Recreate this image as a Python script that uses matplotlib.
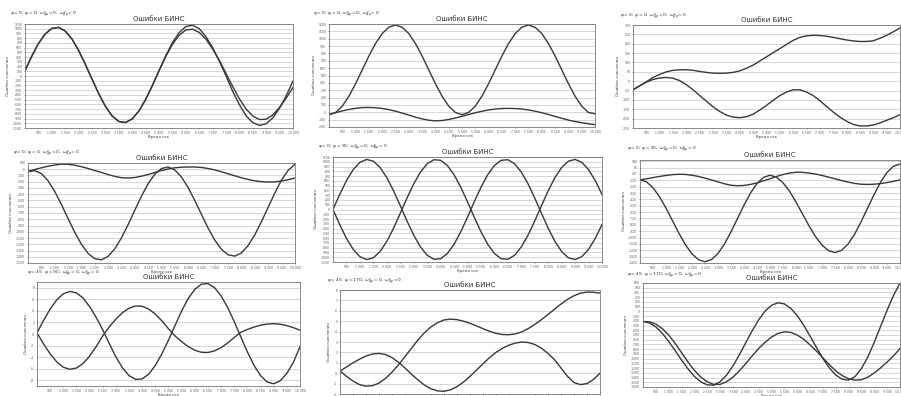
import numpy as np
import matplotlib
matplotlib.use('Agg')
import matplotlib.pyplot as plt

# time axis, seconds (every 250 s)
time_s = list(range(0, 10001, 250))

# panel 1
p1_a = [110, 417, 685, 888, 1006, 1028, 952, 785, 542, 249, -66, -373, -641, -844, -962, -984, -908, -741, -498, -205,
        112, 427, 704, 918, 1045, 1073, 1003, 834, 601, 315, 4, -325, -605, -841, -988, -1045, -1010, -884, -679, -413, -108]
p1_b = [110, 417, 685, 888, 1006, 1028, 952, 785, 542, 249, -66, -373, -641, -844, -962, -984, -908, -741, -498, -205,
        109, 409, 668, 862, 972, 990, 923, 780, 573, 334, 55, -225, -484, -697, -848, -922, -914, -824, -661, -467, -240]
# panel 2
p2_a = [-32, -2, 84, 219, 389, 577, 765, 935, 1070, 1156, 1186, 1156, 1070, 935, 765, 577, 389, 219, 84, -2,
        -32, -2, 84, 219, 389, 577, 765, 935, 1070, 1156, 1186, 1156, 1070, 935, 765, 577, 389, 219, 84, -2, -20]
p2_b = [-32, -5, 18, 38, 54, 64, 66, 62, 52, 36, 15, -10, -38, -66, -90, -108, -116, -112, -98, -78,
        -55, -30, -7, 14, 32, 44, 51, 53, 51, 44, 32, 15, -6, -30, -56, -82, -106, -126, -142, -156, -168]
# panel 3
p3_a = [-46, -25, -3, 20, 36, 50, 58, 61, 61, 58, 52, 47, 43, 42, 43, 47, 55, 69, 86, 108,
        130, 152, 174, 196, 218, 234, 242, 245, 244, 240, 234, 227, 220, 215, 212, 212, 216, 229, 245, 264, 284]
p3_b = [-46, -25, -5, 9, 17, 20, 16, 3, -19, -46, -77, -107, -137, -162, -181, -192, -195, -190, -176, -154,
        -129, -102, -77, -58, -46, -46, -58, -77, -104, -135, -165, -192, -214, -231, -239, -239, -234, -223, -209, -195, -179]
# panel 4
p4_a = [-42, -21, -70, -183, -354, -562, -788, -1009, -1201, -1346, -1431, -1449, -1394, -1274, -1098, -886, -655, -430, -231, -79,
        12, 36, -12, -126, -295, -502, -726, -945, -1137, -1284, -1370, -1390, -1337, -1218, -1044, -833, -604, -374, -169, -14, 78]
p4_b = [-33, -4, 23, 49, 68, 81, 79, 65, 41, 12, -20, -52, -84, -114, -135, -140, -132, -111, -84, -52,
        -20, 4, 23, 33, 36, 36, 28, 12, -12, -41, -73, -105, -137, -164, -185, -199, -204, -201, -188, -167, -140]
# panel 5
p5_a = [0, 317, 604, 835, 988, 1049, 1012, 881, 668, 393, 81, -239, -537, -783, -958, -1043, -1031, -923, -729, -466,
        -161, 160, 465, 728, 922, 1031, 1043, 959, 784, 538, 239, -80, -392, -668, -881, -1012, -1049, -988, -835, -605, -317]
p5_b = [0, -317, -604, -835, -988, -1049, -1012, -881, -668, -393, -81, 239, 537, 783, 958, 1043, 1031, 923, 729, 466,
        161, -160, -465, -728, -922, -1031, -1043, -959, -784, -538, -239, 80, 392, 668, 881, 1012, 1049, 988, 835, 605, 317]
# panel 6
p6_a = [-112, -144, -235, -378, -557, -755, -955, -1134, -1277, -1368, -1400, -1366, -1270, -1120, -930, -720, -510, -320, -170, -74,
        -40, -70, -157, -291, -461, -648, -835, -1005, -1139, -1226, -1256, -1222, -1123, -970, -774, -560, -346, -150, 3, 102, 136]
p6_b = [-112, -96, -77, -59, -43, -30, -24, -27, -40, -59, -85, -114, -144, -174, -197, -205, -200, -184, -160, -128,
        -96, -59, -29, -5, 8, 6, -5, -21, -43, -69, -96, -123, -147, -168, -181, -184, -181, -171, -155, -136, -112]
# panel 7
p7_a = [0.18, 2.35, 4.32, 5.90, 6.96, 7.37, 7.12, 6.22, 4.76, 2.87, 0.73, -1.67, -3.96, -5.86, -7.21, -7.86, -7.77, -6.94, -5.44, -3.42,
        -1.06, 1.49, 3.99, 6.14, 7.73, 8.63, 8.72, 8.03, 6.60, 4.58, 2.14, -0.49, -3.10, -5.42, -7.20, -8.30, -8.61, -8.10, -6.82, -4.89, -2.2]
p7_b = [0.18, -1.72, -3.44, -4.83, -5.75, -6.11, -5.89, -5.11, -3.83, -2.18, -0.31, 1.25, 2.58, 3.69, 4.47, 4.85, 4.80, 4.31, 3.44, 2.27,
        0.90, -0.34, -1.33, -2.18, -2.81, -3.16, -3.20, -2.92, -2.36, -1.56, -0.60, 0.30, 0.78, 1.20, 1.52, 1.72, 1.78, 1.69, 1.45, 1.10, 0.66]
# panel 8
p8_a = [0.2, -0.3, -0.75, -1.1, -1.25, -1.2, -0.95, -0.5, 0.1, 0.8, 1.6, 2.4, 3.2, 3.9, 4.45, 4.85, 5.12, 5.2, 5.15, 5.0,
        4.8, 4.55, 4.28, 4.03, 3.83, 3.72, 3.7, 3.78, 3.98, 4.3, 4.7, 5.15, 5.65, 6.15, 6.65, 7.1, 7.45, 7.7, 7.8, 7.78, 7.7]
p8_b = [0.2, 0.6, 1.0, 1.35, 1.65, 1.85, 1.9, 1.8, 1.5, 1.05, 0.5, -0.1, -0.65, -1.15, -1.5, -1.7, -1.74, -1.6, -1.3, -0.85,
        -0.3, 0.3, 0.9, 1.5, 2.0, 2.4, 2.7, 2.9, 3.0, 2.95, 2.75, 2.4, 1.9, 1.3, 0.5, -0.3, -0.9, -1.1, -1.0, -0.6, 0.0]
# panel 9
p9_a = [-214, -245, -328, -465, -636, -830, -1030, -1217, -1376, -1492, -1554, -1560, -1490, -1351, -1153, -918, -661, -408, -179, 6,
        129, 182, 158, 65, -89, -291, -524, -764, -997, -1197, -1347, -1435, -1455, -1380, -1211, -962, -652, -313, 28, 340, 598]
p9_b = [-214, -221, -269, -364, -500, -676, -874, -1072, -1248, -1391, -1490, -1545, -1545, -1490, -1391, -1259, -1105, -940, -786, -654,
        -544, -467, -434, -445, -500, -588, -709, -841, -984, -1127, -1259, -1358, -1424, -1455, -1446, -1391, -1303, -1193, -1072, -940, -786]

# initial conditions written above each panel
notes = [
    r'$\varphi=0;\ \psi=0;\ \omega^{x}_{др}=0;\ \omega^{z}_{др}=0$',
    r'$\varphi=0;\ \psi=0;\ \omega^{x}_{др}=0;\ \omega^{z}_{др}=0$',
    r'$\varphi=0;\ \psi=0;\ \omega^{x}_{др}=0;\ \omega^{z}_{др}=0$',
    r'$\varphi=0;\ \psi=0;\ \omega^{x}_{др}=0;\ \omega^{z}_{др}=0$',
    r'$\varphi=0;\ \psi=90;\ \omega^{x}_{др}=0;\ \omega^{z}_{др}=0$',
    r'$\varphi=0;\ \psi=90;\ \omega^{x}_{др}=0;\ \omega^{z}_{др}=0$',
    r'$\varphi=45;\ \psi=90;\ \omega^{x}_{др}=0;\ \omega^{z}_{др}=0$',
    r'$\varphi=45;\ \psi=170;\ \omega^{x}_{др}=0;\ \omega^{z}_{др}=0$',
    r'$\varphi=45;\ \psi=170;\ \omega^{x}_{др}=0;\ \omega^{z}_{др}=0$',
]

panels = [
    (p1_a, p1_b, -1100, 1100, 100),
    (p2_a, p2_b, -200, 1200, 100),
    (p3_a, p3_b, -250, 300, 50),
    (p4_a, p4_b, -1500, 100, 100),
    (p5_a, p5_b, -1100, 1100, 100),
    (p6_a, p6_b, -1420, 200, 100),
    (p7_a, p7_b, -9, 9, 2),
    (p8_a, p8_b, -2, 8, 1),
    (p9_a, p9_b, -1600, 600, 100),
]

# pixel boxes: left, right, top, bottom
boxes = [(25, 293, 24, 128), (329, 595, 24, 127), (633, 900, 25, 128),
         (28, 295, 163, 263), (333, 602, 157, 262), (640, 900, 160, 263),
         (37, 300, 282, 386), (340, 600, 290, 394), (643, 900, 283, 387)]
note_xy = [(10, 15), (313, 15), (620, 17), (13, 154), (318, 148), (627, 150),
           (27, 274), (327, 282), (627, 276)]

W, H = 901, 396
fig = plt.figure(figsize=(W / 100, H / 100), dpi=100)
fig.patch.set_facecolor('white')

xticks = list(range(500, 10001, 500))
xlabels = ['{:,}'.format(t).replace(',', ' ') for t in xticks]

for k in range(9):
    a, b, lo, hi, step = panels[k]
    l, r, t, bt = boxes[k]
    ax = fig.add_axes([l / W, 1 - bt / H, (r - l) / W, (bt - t) / H])
    ax.plot(time_s, a, color='#383838', lw=1.0)
    ax.plot(time_s, b, color='#383838', lw=1.0)
    ax.set_xlim(0, 10000)
    ax.set_ylim(lo, hi)
    yt = np.arange(lo if k != 6 else -8, hi + step / 2, step)
    ax.set_yticks(yt)
    ax.set_yticklabels([str(int(v)) for v in yt])
    ax.set_xticks(xticks)
    ax.set_xticklabels(xlabels)
    ax.grid(axis='y', color='#c8c8c8', lw=0.5)
    ax.set_axisbelow(True)
    ax.tick_params(labelsize=2.2, length=1, width=0.4, pad=1, colors='#555555')
    for s in ax.spines.values():
        s.set_color('#777777')
        s.set_linewidth(0.6)
    ax.set_title('Ошибки БИНС', fontsize=5, pad=2, color='#333333')
    ax.set_ylabel('Ошибки счисления', fontsize=2.8, labelpad=2, color='#444444')
    ax.set_xlabel('Время сек', fontsize=2.8, labelpad=0.5, color='#444444')
    nx, ny = note_xy[k]
    fig.text(nx / W, 1 - ny / H, notes[k], fontsize=3.2, color='#333333', va='center')

plt.savefig('out.png', dpi=100)
